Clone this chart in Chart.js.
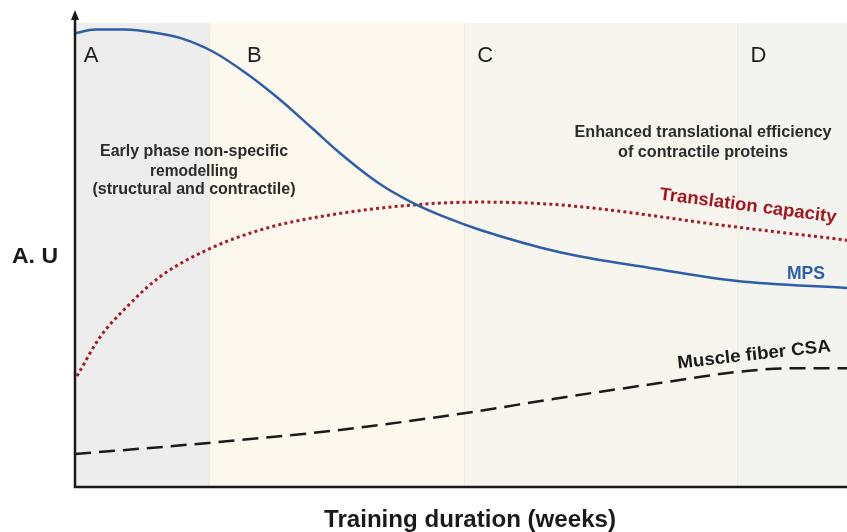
<!DOCTYPE html>
<html>
<head>
<meta charset="utf-8">
<script src="https://cdn.jsdelivr.net/npm/chart.js@4.4.1/dist/chart.umd.min.js"></script>
<style>
  html, body { margin: 0; padding: 0; background: #fff; }
  #wrap { width: 847px; height: 532px; position: relative; }
</style>
</head>
<body>
<div id="wrap"><canvas id="phaseChart"></canvas></div>
<script>
// ==========================
// DATA (x = training time, arbitrary 0-100; y = A.U. 0-100)
// ==========================
const phaseLabels = ["A", "B", "C", "D"];
const phaseStart = [0, 17.4, 50.4, 85.8];
const phaseEnd = [17.4, 50.4, 85.8, 100];

const mpsX = [0, 2.6, 6.5, 10.4, 13.6, 17.9, 22.3, 26.6, 30.8, 34.3, 39.5, 43.8, 48.2, 52.5, 62.8, 74.5, 85.8, 100];
const mpsY = [97.8, 98.6, 98.6, 97.9, 96.8, 93.8, 89.0, 83.4, 77.2, 72.0, 65.3, 61.2, 58.0, 55.4, 50.6, 47.2, 44.4, 42.9];

const capX = [0.26, 3.24, 6.7, 11.0, 17.1, 24.0, 30.8, 43.8, 52.5, 62.8, 85.8, 100];
const capY = [23.9, 32.3, 38.8, 45.3, 51.1, 55.4, 58.0, 60.8, 61.4, 60.8, 56.0, 53.2];

const csaX = [0, 17.3, 34.3, 50.4, 62.8, 75.7, 85.8, 93, 100];
const csaY = [7.1, 9.5, 12.3, 15.9, 19.2, 22.4, 24.8, 25.6, 25.6];

function toPoints(xs, ys) {
  return xs.map((x, i) => ({ x: x, y: ys[i] }));
}

// ==========================
// PLUGIN: phase bands, axes, annotations
// ==========================
const phaseBg = ["#ededee", "#fcf8ee", "#f8f5ef", "#f3f3f0"];
const FONT = "'Liberation Sans', Arial, sans-serif";

// draw text squeezed/stretched to a given width
function fitText(ctx, text, cx, cy, width, angle) {
  const w = ctx.measureText(text).width;
  ctx.save();
  ctx.translate(cx, cy);
  if (angle) ctx.rotate(angle);
  ctx.scale(width / w, 1);
  ctx.fillText(text, 0, 0);
  ctx.restore();
}

const decorPlugin = {
  id: "decor",
  beforeDatasetsDraw(chart) {
    const { ctx, chartArea, scales } = chart;
    const xs = scales.x;
    ctx.save();
    phaseLabels.forEach((lab, i) => {
      const x0 = xs.getPixelForValue(phaseStart[i]);
      const x1 = xs.getPixelForValue(phaseEnd[i]);
      ctx.fillStyle = phaseBg[i];
      ctx.fillRect(x0, chartArea.top, x1 - x0, chartArea.bottom - chartArea.top);
      if (i > 0) {
        ctx.strokeStyle = "#f2e9da";
        ctx.lineWidth = 1;
        ctx.beginPath();
        ctx.moveTo(Math.round(x0) + 0.5, chartArea.top);
        ctx.lineTo(Math.round(x0) + 0.5, chartArea.bottom);
        ctx.stroke();
      }
      // phase letters
      ctx.fillStyle = "#1e1e1e";
      ctx.font = "22px " + FONT;
      ctx.textAlign = "center";
      ctx.textBaseline = "middle";
      ctx.fillText(lab, x0 + [16, 45, 21, 21][i], 56);
    });

    // phase descriptions
    ctx.fillStyle = "#2b2b2b";
    ctx.font = "bold 16px " + FONT;
    fitText(ctx, "Early phase non-specific", 194, 152, 188);
    fitText(ctx, "remodelling", 194, 172, 88);
    fitText(ctx, "(structural and contractile)", 194, 190, 203);
    fitText(ctx, "Enhanced translational efficiency", 703, 133, 257);
    fitText(ctx, "of contractile proteins", 703, 153, 170);
    ctx.restore();
  },
  afterDatasetsDraw(chart) {
    const { ctx, chartArea } = chart;
    ctx.save();
    // axes
    ctx.strokeStyle = "#1a1a1a";
    ctx.lineWidth = 2.5;
    ctx.beginPath();
    ctx.moveTo(75, 16);
    ctx.lineTo(75, chartArea.bottom);
    ctx.lineTo(chartArea.right, chartArea.bottom);
    ctx.stroke();
    ctx.fillStyle = "#1a1a1a";
    ctx.beginPath();
    ctx.moveTo(75, 10);
    ctx.lineTo(71, 20);
    ctx.lineTo(79, 20);
    ctx.closePath();
    ctx.fill();

    // axis titles
    ctx.textAlign = "center";
    ctx.textBaseline = "middle";
    ctx.font = "bold 22px " + FONT;
    fitText(ctx, "A. U", 35, 257, 46);
    ctx.font = "bold 23px " + FONT;
    fitText(ctx, "Training duration (weeks)", 470, 521, 292);

    // series labels
    ctx.font = "bold 18px " + FONT;
    ctx.fillStyle = "#a3171f";
    fitText(ctx, "Translation capacity", 748, 206, 178, 0.13);

    ctx.fillStyle = "#2f5ea8";
    fitText(ctx, "MPS", 806, 274, 38);

    ctx.fillStyle = "#1a1a1a";
    fitText(ctx, "Muscle fiber CSA", 754, 355, 154, -0.11);
    ctx.restore();
  },
};

// ==========================
// CHART
// ==========================
const canvas = document.getElementById("phaseChart");
new Chart(canvas, {
  type: "line",
  data: {
    datasets: [
      {
        label: "MPS",
        data: toPoints(mpsX, mpsY),
        borderColor: "#2f5ea8",
        borderWidth: 2.5,
        pointRadius: 0,
        cubicInterpolationMode: "monotone",
        clip: false,
      },
      {
        label: "Translation capacity",
        data: toPoints(capX, capY),
        borderColor: "#a51d25",
        borderWidth: 3,
        borderDash: [3, 3.2],
        pointRadius: 0,
        cubicInterpolationMode: "monotone",
        clip: false,
      },
      {
        label: "Muscle fiber CSA",
        data: toPoints(csaX, csaY),
        borderColor: "#1a1a1a",
        borderWidth: 2.5,
        borderDash: [16, 8],
        pointRadius: 0,
        cubicInterpolationMode: "monotone",
        clip: false,
      },
    ],
  },
  options: {
    responsive: true,
    maintainAspectRatio: false,
    animation: false,
    layout: { padding: { left: 75, right: 0, top: 23, bottom: 45 } },
    scales: {
      x: { type: "linear", min: 0, max: 100, display: false },
      y: { type: "linear", min: 0, max: 100, display: false },
    },
    plugins: {
      legend: { display: false },
      tooltip: { enabled: false },
    },
  },
  plugins: [decorPlugin],
});
</script>
</body>
</html>
